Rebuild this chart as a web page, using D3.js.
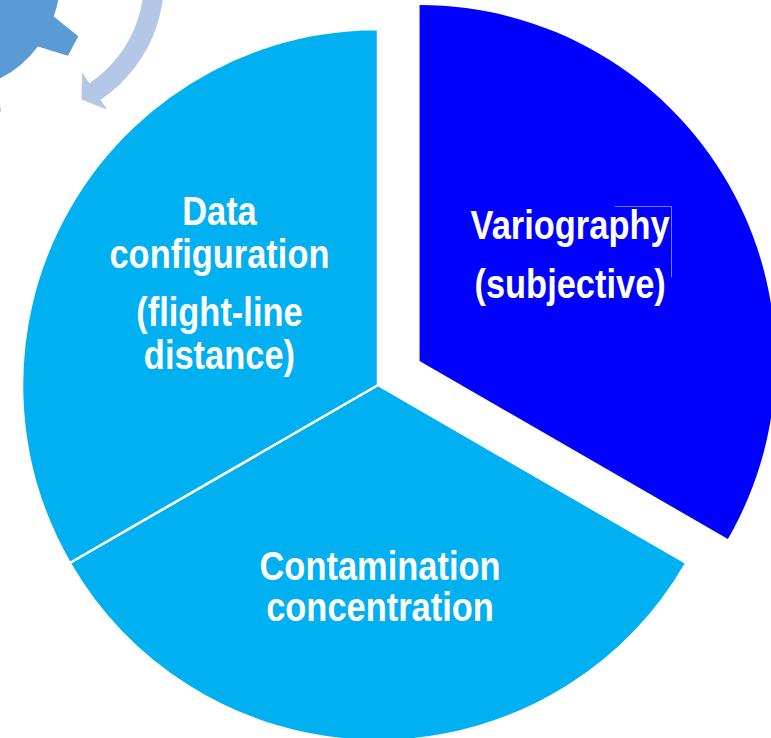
<!DOCTYPE html>
<meta charset="utf-8">
<script src="https://d3js.org/d3.v7.min.js"></script>
<style>
  body { margin: 0; background: #fff; }
  svg { display: block; }
</style>
<div id="chart"></div>
<script>
  // three equal factors, clockwise from 12 o'clock
  var factors = ["Variography (subjective)", "Contamination concentration", "Data configuration (flight-line distance)"];
  var shares = [1, 1, 1];
  // label text, split into paragraphs and lines
  var labelLines = [
    [["Variography"], ["(subjective)"]],
    [["Contamination", "concentration"]],
    [["Data", "configuration"], ["(flight-line", "distance)"]]
  ];
  var exploded = ["Variography (subjective)"];

  var sliceColor = ["#0000ff", "#00b0f0", "#00b0f0"];

  var width = 771, height = 738;
  var cx = 378, cy = 385, radius = 356, explodeBy = 48, labelRadius = 190;

  // per-label fine placement (nudge of block + baselines relative to anchor)
  var labelLayout = [
    { dx: -14, size: 41, base: [-27, 32] },
    { dx: 2,   size: 41, base: [5, 46] },
    { dx: 6,   size: 41, base: [-65, -22, 36, 79] }
  ];

  var svg = d3.select("#chart")
    .append("svg")
      .attr("width", width)
      .attr("height", height);

  // --- decoration from the neighbouring slide graphic: gear + curved arrow ---
  var gx = -51, gy = -20, rBody = 111, rTooth = 141;
  var rad = Math.PI / 180;
  var teeth = d3.range(8).map(function(k) { return (28 + 45 * k) * rad; });
  var hb = 8.75 * rad, ht = 4.5 * rad;
  var gear = d3.path();
  function pt(r, a) { return [gx + r * Math.cos(a), gy + r * Math.sin(a)]; }
  var s = pt(rBody, teeth[0] - hb);
  gear.moveTo(s[0], s[1]);
  teeth.forEach(function(t, k) {
    var p1 = pt(rTooth, t - ht), p2 = pt(rTooth, t + ht), p3 = pt(rBody, t + hb);
    gear.lineTo(p1[0], p1[1]);
    gear.lineTo(p2[0], p2[1]);
    gear.lineTo(p3[0], p3[1]);
    var next = k < teeth.length - 1 ? teeth[k + 1] : teeth[0] + 2 * Math.PI;
    gear.arc(gx, gy, rBody, t + hb, next - hb);
  });
  gear.closePath();
  svg.append("path")
    .attr("d", gear.toString())
    .attr("fill", "#5b9bd5");

  var ax = 21, ay = -19, rIn = 123, rOut = 143;
  var a0 = -20 * rad, a1 = 56.2 * rad, aTip = 63 * rad;
  function apt(r, a) { return [ax + r * Math.cos(a), ay + r * Math.sin(a)]; }
  var arrow = d3.path();
  var q = apt(rOut, a0);
  arrow.moveTo(q[0], q[1]);
  arrow.arc(ax, ay, rOut, a0, a1);
  q = apt(155, a1); arrow.lineTo(q[0], q[1]);
  q = apt(133, aTip); arrow.lineTo(q[0], q[1]);
  q = apt(110, a1); arrow.lineTo(q[0], q[1]);
  q = apt(rIn, a1); arrow.lineTo(q[0], q[1]);
  arrow.arc(ax, ay, rIn, a1, a0, true);
  arrow.closePath();
  svg.append("path")
    .attr("d", arrow.toString())
    .attr("fill", "#b4c7e7");

  // --- the pie ---
  var pie = d3.pie().sort(null).value(function(d) { return d; });
  var arcs = pie(shares);

  var arc = d3.arc().innerRadius(0).outerRadius(radius);
  var labelArc = d3.arc().innerRadius(labelRadius).outerRadius(labelRadius);

  function shift(d, i) {
    if (exploded.indexOf(factors[i]) < 0) return [0, 0];
    var a = (d.startAngle + d.endAngle) / 2;
    return [Math.sin(a) * explodeBy, -Math.cos(a) * explodeBy];
  }

  var g = svg.append("g")
    .attr("transform", "translate(" + cx + "," + cy + ")");

  g.selectAll("path.slice")
    .data(arcs)
    .enter()
    .append("path")
      .attr("class", "slice")
      .attr("transform", function(d, i) { var o = shift(d, i); return "translate(" + o[0] + "," + o[1] + ")"; })
      .attr("d", arc)
      .attr("fill", function(d, i) { return sliceColor[i]; })
      .attr("stroke", "#fff")
      .attr("stroke-width", function(d, i) { return exploded.indexOf(factors[i]) < 0 ? 2.5 : 0; })
      .attr("stroke-linejoin", "round");

  var labels = g.selectAll("g.label")
    .data(arcs)
    .enter()
    .append("g")
      .attr("class", "label")
      .attr("transform", function(d, i) {
        var c = labelArc.centroid(d), o = shift(d, i);
        return "translate(" + (c[0] + o[0] + labelLayout[i].dx) + "," + (c[1] + o[1]) + ") scale(0.84,1)";
      });

  labels.each(function(d, i) {
    var lines = [].concat.apply([], labelLines[i]);
    d3.select(this).selectAll("text")
      .data(lines)
      .enter()
      .append("text")
        .attr("x", 0)
        .attr("y", function(t, j) { return labelLayout[i].base[j]; })
        .attr("text-anchor", "middle")
        .attr("fill", "#fff")
        .style("font-family", "'Liberation Sans', Arial, sans-serif")
        .style("font-weight", "bold")
        .style("font-size", labelLayout[i].size + "px")
        .text(function(t) { return t; });
  });

  // faint leftover text-box edge near "Variography"
  svg.append("path")
    .attr("d", "M615,206.5H671.5V277")
    .attr("fill", "none")
    .attr("stroke", "#9a9cf0")
    .attr("stroke-width", 0.8);
</script>
